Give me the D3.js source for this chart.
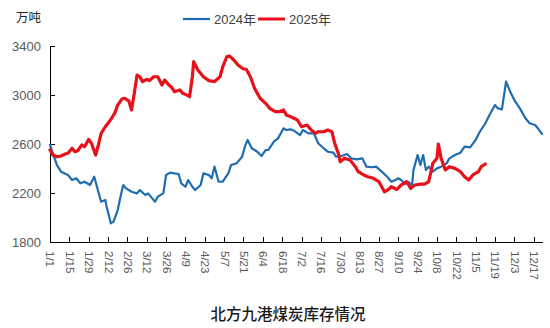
<!DOCTYPE html>
<meta charset="utf-8">
<style>
body { margin: 0; background: #fff; }
svg { font-family: "Liberation Sans", "Noto Sans CJK SC", sans-serif; }
.axis path, .axis line { stroke: #000; stroke-width: 1; shape-rendering: crispEdges; }
.axis text { fill: #595959; font-size: 13px; }
.line { fill: none; stroke-linejoin: round; stroke-linecap: round; }
</style>
<body>
<script src="https://d3js.org/d3.v7.min.js"></script>
<script>
// day offset from 1/1, value (万吨)
var days2024 = [0,5,8,13,16,19,22,25,29,32,35,37,40,41,44,46,49,51,53,55,59,63,65,69,71,74,76,78,82,84,87,90,93,95,98,100,103,105,109,111,115,117,119,122,125,129,131,135,139,141,143,146,150,153,156,158,162,165,169,171,174,177,181,183,187,191,194,198,201,205,207,211,215,218,222,226,229,233,236,240,244,247,250,252,254,257,259,262,263,266,268,270,272,274,277,280,283,287,289,293,297,300,304,308,311,315,318,322,324,327,330,333,336,340,344,347,351,353,356];
var values2024 = [2592,2428,2374,2347,2306,2320,2279,2292,2265,2333,2210,2129,2143,2088,1953,1966,2061,2170,2265,2238,2210,2197,2224,2184,2197,2156,2129,2170,2197,2347,2366,2360,2355,2279,2251,2306,2251,2224,2265,2360,2347,2320,2415,2292,2292,2360,2428,2442,2496,2578,2633,2565,2537,2502,2551,2551,2619,2646,2728,2714,2720,2706,2673,2714,2687,2687,2606,2565,2537,2529,2496,2502,2518,2483,2475,2483,2415,2410,2415,2374,2333,2292,2306,2320,2306,2273,2292,2265,2388,2510,2428,2510,2388,2415,2374,2401,2415,2442,2483,2510,2529,2578,2573,2633,2700,2769,2837,2918,2891,2883,3109,3027,2959,2891,2810,2769,2755,2728,2682];

var days2025 = [0,2,5,8,11,13,16,18,20,23,25,28,30,33,35,37,40,42,45,47,49,52,54,57,59,61,63,65,67,70,72,75,78,81,83,86,88,90,94,96,99,101,103,104,107,111,115,119,123,125,128,130,133,136,140,142,145,148,152,156,159,163,166,169,171,175,179,182,186,189,192,194,198,201,204,206,209,210,213,217,221,223,227,230,234,238,240,242,245,247,251,254,258,261,264,268,271,274,277,280,281,283,286,289,293,297,300,303,306,310,312,315];
var values2025 = [2551,2510,2496,2502,2518,2524,2565,2537,2545,2592,2578,2638,2606,2510,2592,2687,2741,2769,2818,2856,2918,2967,2973,2953,2878,3014,3163,3149,3109,3128,3117,3149,3149,3082,3122,3082,3063,3027,3041,3014,3000,2986,3149,3272,3204,3149,3117,3109,3149,3231,3313,3318,3286,3245,3212,3210,3149,3055,2973,2932,2891,2864,2864,2878,2837,2818,2796,2741,2755,2714,2687,2700,2700,2714,2700,2606,2510,2455,2483,2469,2415,2374,2347,2333,2320,2292,2251,2210,2229,2251,2229,2265,2292,2238,2265,2273,2273,2292,2442,2483,2600,2483,2388,2415,2401,2374,2333,2306,2347,2374,2415,2437];

var tickLabels = ["1/1","1/15","1/29","2/12","2/26","3/12","3/26","4/9","4/23","5/7","5/21","6/4","6/18","7/2","7/16","7/30","8/13","8/27","9/10","9/24","10/8","10/22","11/5","11/19","12/3","12/17"];
var yTicks = [1800, 2200, 2600, 3000, 3400];
var seriesNames = ["2024年", "2025年"];
var colors = ["#1f6db1", "#e8101a"];

var width = 550, height = 328;
var margin = {top: 46, right: 8, bottom: 86, left: 50};

var svg = d3.select("body").append("svg")
    .attr("width", width)
    .attr("height", height);

var start = new Date(2025, 0, 1);
var parseDay = d3.timeParse("%Y/%m/%d");
var tickDays = tickLabels.map(function(l) { return d3.timeDay.count(start, parseDay("2025/" + l)); });

var x = d3.scaleLinear().domain([0, 356]).range([margin.left, width - margin.right]);
var y = d3.scaleLinear().domain([1800, 3400]).range([height - margin.bottom, margin.top]);

// axes
var xAxis = svg.append("g")
    .attr("class", "axis")
    .attr("transform", "translate(0," + (height - margin.bottom) + ")")
    .call(d3.axisBottom(x).tickValues(tickDays).tickSizeInner(-5).tickSizeOuter(0)
        .tickFormat(function(d, i) { return tickLabels[i]; }));
xAxis.selectAll("text")
    .attr("transform", "rotate(90)")
    .attr("x", 9)
    .attr("y", 0)
    .attr("dy", "0.35em")
    .style("text-anchor", "start")
    .style("font-size", "11.5px");

svg.append("g")
    .attr("class", "axis")
    .attr("transform", "translate(" + margin.left + ",0)")
    .call(d3.axisLeft(y).tickValues(yTicks).tickFormat(d3.format("d"))
        .tickSizeInner(-5).tickSizeOuter(0).tickPadding(9));

// lines
var line = d3.line()
    .x(function(d) { return x(d[0]); })
    .y(function(d) { return y(d[1]); });

svg.append("path")
    .datum(d3.zip(days2024, values2024))
    .attr("class", "line")
    .attr("stroke", colors[0])
    .attr("stroke-width", 2.2)
    .attr("d", line);

svg.append("path")
    .datum(d3.zip(days2025, values2025))
    .attr("class", "line")
    .attr("stroke", colors[1])
    .attr("stroke-width", 3.2)
    .attr("d", line);

// unit label
svg.append("text")
    .attr("x", 16).attr("y", 22)
    .style("font-size", "12.5px").style("fill", "#262626")
    .text("万吨");

// legend
var legend = svg.append("g").attr("transform", "translate(183,19)");
var lx = [0, 75];
seriesNames.forEach(function(n, i) {
    var g = legend.append("g").attr("transform", "translate(" + lx[i] + ",0)");
    g.append("line").attr("x1", 0).attr("x2", 27).attr("y1", 0).attr("y2", 0)
        .attr("stroke", colors[i]).attr("stroke-width", i ? 3 : 2.2);
    g.append("text").attr("x", 31).attr("y", 0).attr("dy", "0.36em")
        .style("font-size", "13px").style("fill", "#404040").text(n);
});

// title
svg.append("text")
    .attr("x", 288).attr("y", 320)
    .attr("text-anchor", "middle")
    .style("font-size", "15.5px").style("font-weight", "500").style("fill", "#1a1a1a")
    .text("北方九港煤炭库存情况");
</script>
</body>
